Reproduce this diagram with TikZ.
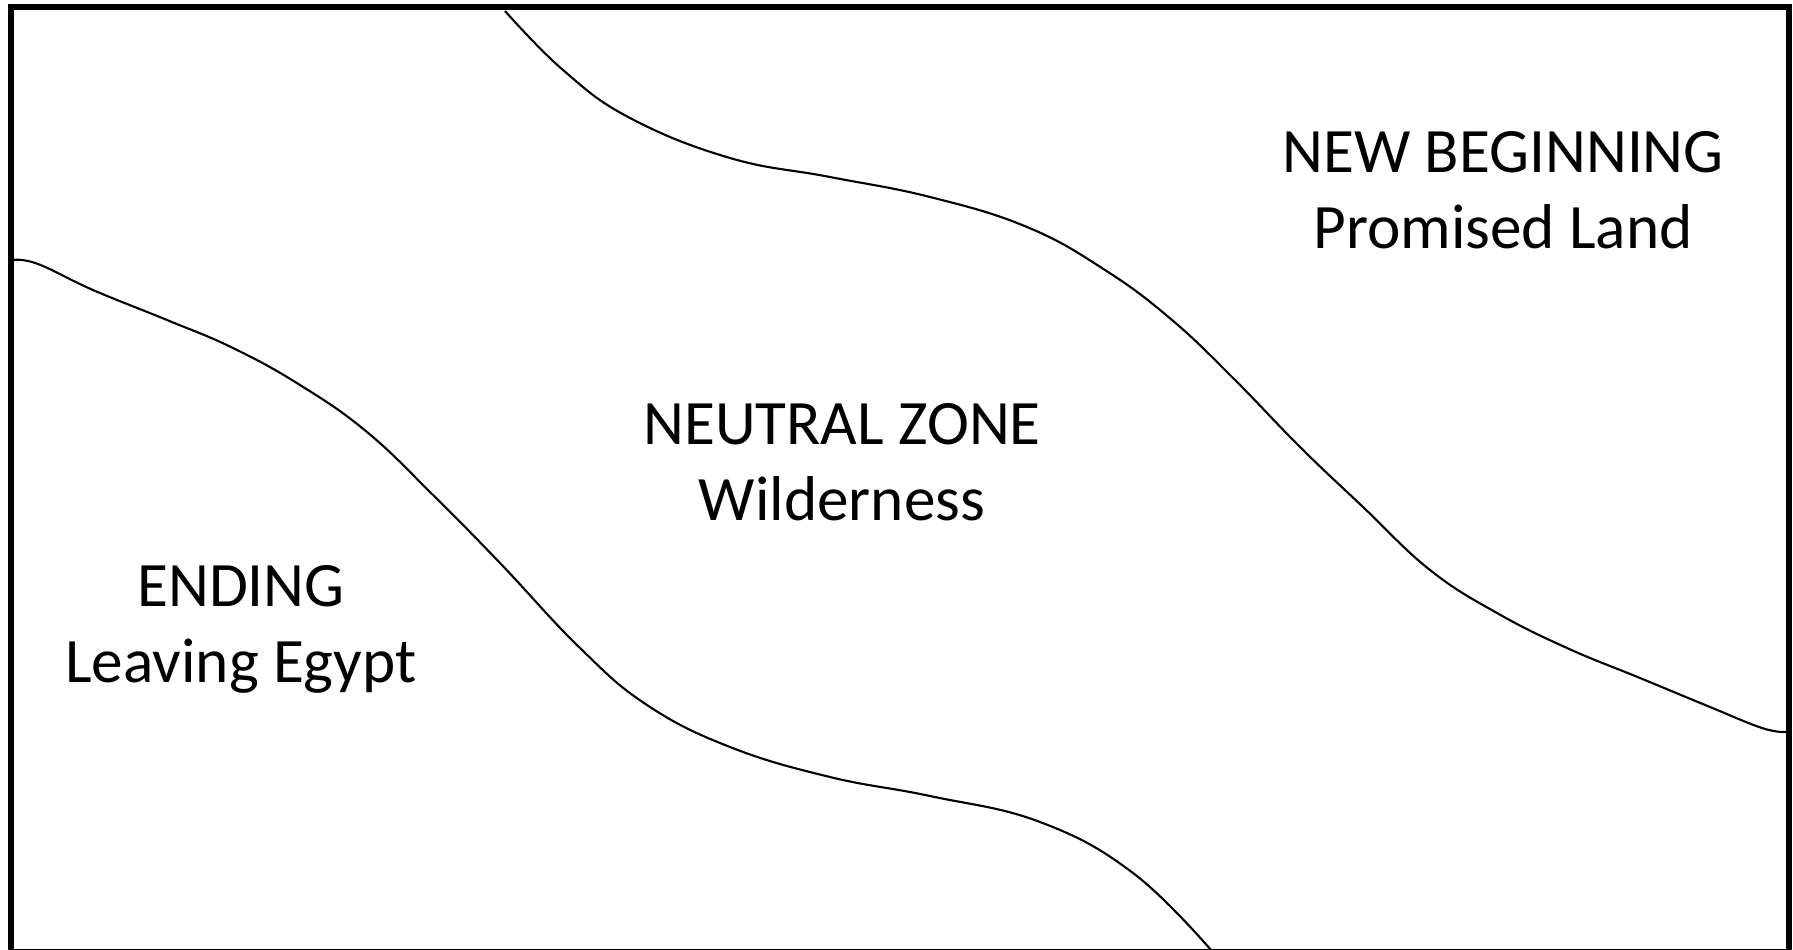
\documentclass[tikz,border=0pt]{standalone}
\usepackage{fontspec}
\setmainfont{Carlito}
\usetikzlibrary{positioning}

\begin{document}
\begin{tikzpicture}[font=\fontsize{18}{21.6}\selectfont,
    zone/.style={align=center, inner sep=0pt},
    border/.style={line width=1.7pt},
    edge/.style={line width=0.6pt}]
\useasboundingbox (0,0) rectangle (17.93,9.49);
\clip (0,0) rectangle (17.93,9.49);
\draw[border] (0.107,-0.03) rectangle (17.89,9.42);
\draw[edge] plot[smooth, tension=0.7] coordinates {(5.05,9.38) (5.63,8.79) (6.30,8.31) (7.30,7.91) (8.30,7.72) (9.30,7.52) (10.27,7.22) (11.05,6.79) (11.72,6.29) (12.35,5.69) (13.00,5.02) (13.63,4.42) (14.30,3.79) (14.97,3.36) (15.67,3.01) (16.40,2.71) (17.10,2.42) (17.62,2.21) (17.86,2.17)};
\draw[edge] plot[smooth, tension=0.7] coordinates {(0.13,6.89) (0.38,6.85) (0.93,6.59) (1.67,6.29) (2.33,6.01) (3.00,5.64) (3.67,5.17) (4.33,4.54) (5.00,3.86) (5.80,3.01) (6.47,2.44) (7.30,2.02) (8.30,1.72) (9.30,1.53) (10.40,1.27) (11.33,0.76) (12.11,-0.01)};
\node[zone] (ending) at (2.41,3.20) {ENDING\\Leaving Egypt};
\node[zone] (neutral) at (8.42,4.87) {NEUTRAL ZONE\\Wilderness};
\node[zone] (beginning) at (15.03,7.59) {NEW BEGINNING\\Promised Land};
\end{tikzpicture}
\end{document}
